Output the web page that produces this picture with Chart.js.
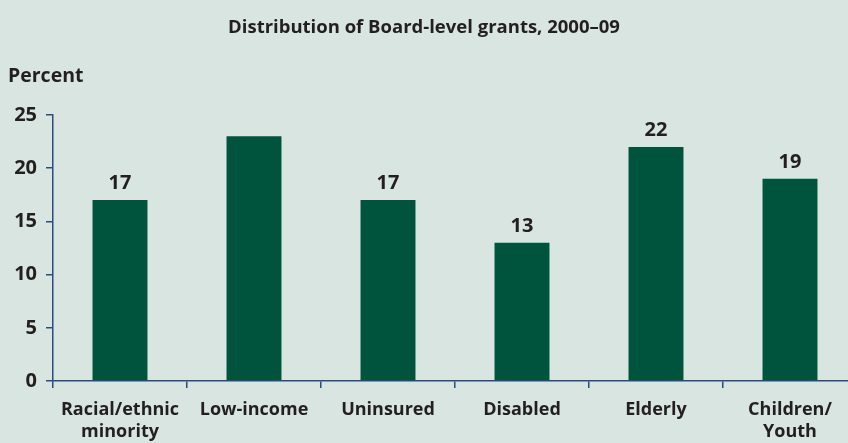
<!DOCTYPE html>
<html>
<head>
<meta charset="utf-8">
<script src="https://cdn.jsdelivr.net/npm/chart.js@4"></script>
<style>
  html, body { margin: 0; padding: 0; overflow: hidden; background: #d9e5e1; }
  #wrap { width: 860px; height: 443px; }
</style>
</head>
<body>
<div id="wrap"><canvas id="grantsChart" width="860" height="443"></canvas></div>
<script>
// Share of Board-level grants by target group
const categories = [['Racial/ethnic', 'minority'], 'Low-income', 'Uninsured', 'Disabled', 'Elderly', ['Children/', 'Youth']];
const percents = [17, 23, 17, 13, 22, 19];
// Low-income carries no printed value
const valueLabels = ['17', null, '17', '13', '22', '19'];
const yTicks = [0, 5, 10, 15, 20, 25];

const chartTitle = 'Distribution of Board-level grants, 2000\u201309';
const axisTitle = 'Percent';

const textColor = '#231f20';
const axisColor = '#2b4c7e';
const barColor = '#00533d';
const fontFamily = '"Open Sans", "Noto Sans", sans-serif';

// Title, axis caption and bar values
const annotations = {
    id: 'annotations',
    afterDatasetsDraw(chart) {
        const ctx = chart.ctx;
        ctx.save();
        ctx.fillStyle = textColor;
        ctx.textBaseline = 'middle';

        ctx.font = `bold 18.5px ${fontFamily}`;
        ctx.textAlign = 'center';
        ctx.fillText(chartTitle, 424, 28);

        ctx.font = `bold 19.5px ${fontFamily}`;
        ctx.textAlign = 'left';
        ctx.fillText(axisTitle, 8, 76);

        ctx.font = `bold 20px ${fontFamily}`;
        ctx.textAlign = 'center';
        ctx.textBaseline = 'alphabetic';
        const meta = chart.getDatasetMeta(0);
        meta.data.forEach((bar, i) => {
            if (valueLabels[i] === null) return;
            ctx.fillText(valueLabels[i], bar.x, bar.y - 11);
        });
        ctx.restore();
    }
};

new Chart(document.getElementById('grantsChart'), {
    type: 'bar',
    data: {
        labels: categories,
        datasets: [{
            data: percents,
            backgroundColor: barColor,
            categoryPercentage: 0.41,
            barPercentage: 1.0
        }]
    },
    options: {
        responsive: false,
        animation: false,
        layout: {
            padding: { top: 115, right: 3, left: 0, bottom: 0 }
        },
        plugins: {
            legend: { display: false },
            tooltip: { enabled: false }
        },
        scales: {
            x: {
                offset: true,
                border: { color: axisColor, width: 1.5 },
                grid: {
                    offset: true,
                    drawOnChartArea: false,
                    color: axisColor,
                    lineWidth: 1.5,
                    tickLength: 7
                },
                ticks: {
                    color: textColor,
                    font: { family: fontFamily, size: 18, weight: 'bold', lineHeight: 1.2 },
                    padding: 11,
                    maxRotation: 0,
                    autoSkip: false
                },
                afterFit(scale) { scale.height = 62; }
            },
            y: {
                min: 0,
                max: 25,
                afterBuildTicks(scale) {
                    scale.ticks = yTicks.map(v => ({ value: v }));
                },
                border: { color: axisColor, width: 1.5 },
                grid: {
                    drawOnChartArea: false,
                    color: axisColor,
                    lineWidth: 1.5,
                    tickLength: 7
                },
                ticks: {
                    color: textColor,
                    font: { family: fontFamily, size: 20, weight: 'bold' },
                    padding: 9
                },
                afterFit(scale) { scale.width = 53; }
            }
        }
    },
    plugins: [annotations]
});
</script>
</body>
</html>
